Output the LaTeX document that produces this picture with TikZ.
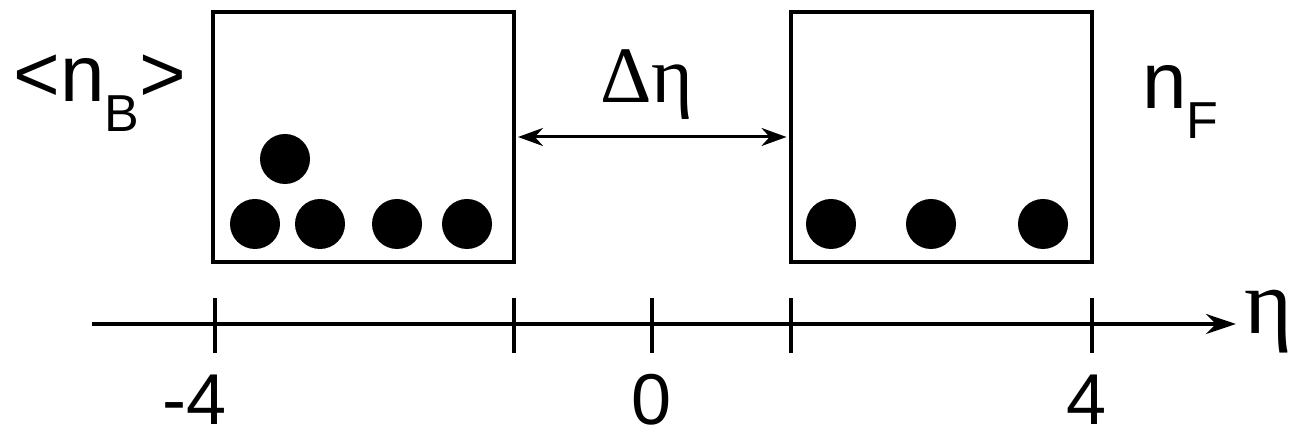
\documentclass[tikz,border=0pt]{standalone}
\usepackage{fontspec}
\setmainfont{Liberation Sans}
\newfontfamily\etafont{Liberation Serif}
\usetikzlibrary{arrows.meta, positioning, calc}
\tikzset{
  bin/.style={draw, line width=2pt, minimum width=150.5pt, minimum height=125pt,
              inner sep=0pt},
  hit/.style={circle, fill=black, minimum size=25pt, inner sep=0pt},
  lbl/.style={inner sep=0pt, font=\fontsize{36}{40}\selectfont},
  mult/.style={inner sep=0pt, font=\fontsize{40}{44}\selectfont},
  glbl/.style={inner sep=0pt, font=\etafont\fontsize{40}{44}\selectfont},
  axis/.style={line width=2pt, -{Stealth[length=15pt, width=10pt]}},
  gap/.style={line width=1.5pt, shorten <=1pt, shorten >=1pt,
              {Stealth[length=12.5pt, width=9pt]}-{Stealth[length=12.5pt, width=9pt]}},
  tickmark/.style={line width=2pt},
}
\newcommand{\sublbl}[1]{\raisebox{-15pt}{\fontsize{26}{29}\selectfont #1}}

\begin{document}
\begin{tikzpicture}[x=0.5pt, y=0.5pt]
\useasboundingbox (0,0) rectangle (1290,438);

% backward and forward windows
\node[bin] (boxB) at (363.5,301) {};
\node[bin] (boxF) at (941,301) {};

% particles
\foreach \px/\py [count=\i] in {255/214, 320/214, 397/214, 467/214, 285/279}
  \node[hit] (b\i) at (\px,\py) {};
\foreach \px [count=\i] in {831, 931, 1043}
  \node[hit] (f\i) at (\px,214) {};

% multiplicities and gap
\node[mult, anchor=base west] (nB) at (13,336) {<n\sublbl{B}>};
\node[mult, anchor=base west] (nF) at (1142,329) {n\sublbl{F}};
\node[glbl, anchor=base] (deta) at (647,335) {Δη};
\draw[gap] (boxB.east) -- (boxF.west);

% eta axis
\coordinate (axL) at (92,114);
\coordinate (axR) at (1236,114);
\draw[axis] (axL) -- (axR);
\node[glbl, anchor=base west, font=\etafont\fontsize{46}{50}\selectfont]
  (eta) at (1244,104) {η};
\foreach \tx [count=\i] in {215, 514, 652, 791, 1092} {
  \coordinate (tlo\i) at (\tx,85);
  \coordinate (thi\i) at (\tx,140);
  \draw[tickmark] (tlo\i) -- (thi\i);
}
\node[lbl, anchor=base, text depth=0pt] (m4) at (195,13) {-4};
\node[lbl, anchor=base, text depth=0pt] (z0) at (652,13) {0};
\node[lbl, anchor=base, text depth=0pt] (p4) at (1087,13) {4};
\end{tikzpicture}
\end{document}
